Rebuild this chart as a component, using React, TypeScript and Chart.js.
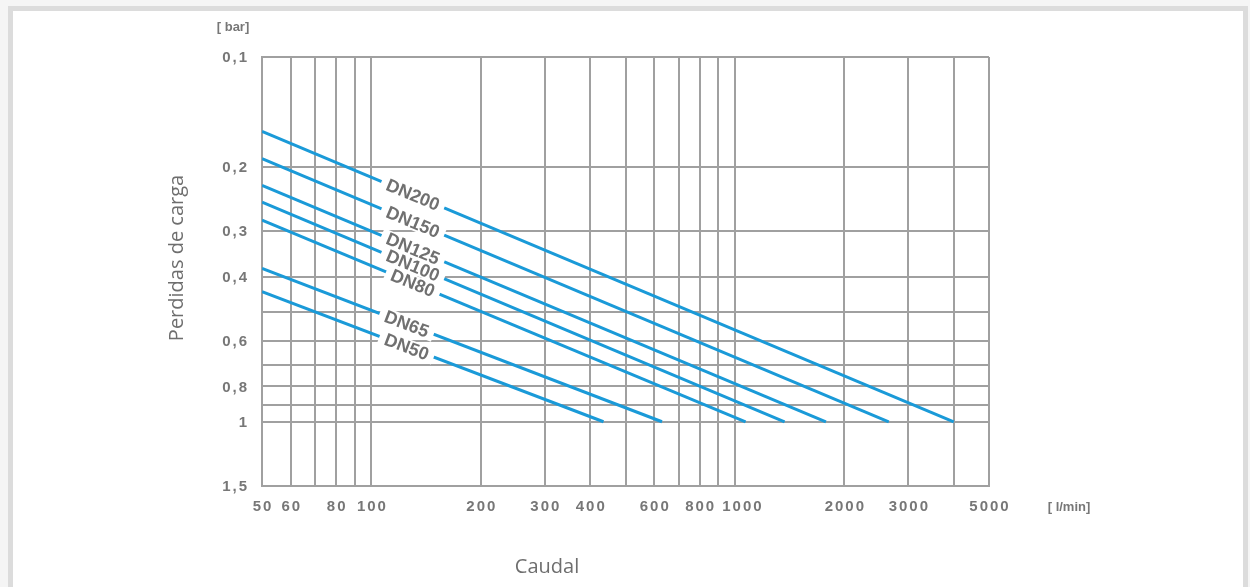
import React, { useEffect, useRef } from "react";
import { Chart, registerables } from "chart.js";

Chart.register(...registerables);

// ---- data ----
const xGridValues = [50, 60, 70, 80, 90, 100, 200, 300, 400, 500, 600, 700, 800, 900, 1000, 2000, 3000, 4000, 5000];
const xLabelValues = [50, 60, 80, 100, 200, 300, 400, 600, 800, 1000, 2000, 3000, 5000];
const xLabelTexts = ["50", "60", "80", "100", "200", "300", "400", "600", "800", "1000", "2000", "3000", "5000"];

const yGridValues = [0.1, 0.2, 0.3, 0.4, 0.5, 0.6, 0.7, 0.8, 0.9, 1.0, 1.5];
const yLabelValues = [0.1, 0.2, 0.3, 0.4, 0.6, 0.8, 1.0, 1.5];
const yLabelTexts = ["0,1", "0,2", "0,3", "0,4", "0,6", "0,8", "1", "1,5"];

const seriesNames = ["DN200", "DN150", "DN125", "DN100", "DN80", "DN65", "DN50"];
const startFlow = [50, 50, 50, 50, 50, 50, 50];
const startLoss = [0.16, 0.19, 0.225, 0.25, 0.28, 0.38, 0.44];
const endFlow = [4000, 2650, 1780, 1370, 1070, 630, 435];
const endLoss = [1, 1, 1, 1, 1, 1, 1];
const labelFlow = [130, 130, 130, 130, 130, 125, 125];

const GRID = "#a0a0a0";
const LINE = "#1a9ad8";
const TEXT = "#777777";

const extrasPlugin = {
  id: "extras",
  afterDraw(chart: any) {
    const ctx = chart.ctx as CanvasRenderingContext2D;
    const xs = chart.scales.x;
    const ys = chart.scales.y;
    const area = chart.chartArea;

    // DN labels with white boxes
    const items: any[] = [];
    chart.data.datasets.forEach((ds: any, i: number) => {
      const p0 = ds.data[0];
      const p1 = ds.data[1];
      const x0 = xs.getPixelForValue(p0.x), y0 = ys.getPixelForValue(p0.y);
      const x1 = xs.getPixelForValue(p1.x), y1 = ys.getPixelForValue(p1.y);
      const lx = xs.getPixelForValue(labelFlow[i]);
      const t = (lx - x0) / (x1 - x0);
      const ly = y0 + t * (y1 - y0);
      const ang = Math.atan2(y1 - y0, x1 - x0);
      items.push({ lx, ly, ang, text: seriesNames[i] });
    });
    ctx.save();
    ctx.font = "bold 18px 'Liberation Sans', Arial, sans-serif";
    items.forEach((it) => {
      const w = ctx.measureText(it.text).width + 12;
      ctx.save();
      ctx.translate(it.lx, it.ly);
      ctx.rotate(it.ang);
      ctx.fillStyle = "#ffffff";
      ctx.fillRect(-w / 2, -8, w, 16);
      ctx.restore();
    });
    items.forEach((it) => {
      ctx.save();
      ctx.translate(it.lx, it.ly);
      ctx.rotate(it.ang);
      ctx.fillStyle = "#707070";
      ctx.textAlign = "center";
      ctx.textBaseline = "middle";
      ctx.fillText(it.text, 0, 1);
      ctx.restore();
    });
    ctx.restore();

    // tick labels
    ctx.save();
    ctx.fillStyle = TEXT;
    ctx.font = "bold 15px 'Liberation Sans', Arial, sans-serif";
    (ctx as any).letterSpacing = "2px";
    ctx.textBaseline = "middle";
    ctx.textAlign = "center";
    let prevRight = -Infinity;
    xLabelValues.forEach((v, i) => {
      const w = ctx.measureText(xLabelTexts[i]).width;
      let cx = xs.getPixelForValue(v) + 1;
      if (cx - w / 2 < prevRight + 6) cx = prevRight + 6 + w / 2;
      ctx.fillText(xLabelTexts[i], cx, area.bottom + 21);
      prevRight = cx + w / 2;
    });
    ctx.textAlign = "right";
    yLabelValues.forEach((v, i) => {
      ctx.fillText(yLabelTexts[i], area.left - 13, ys.getPixelForValue(v) + 1);
    });
    ctx.font = "bold 13px 'Liberation Sans', Arial, sans-serif";
    (ctx as any).letterSpacing = "0px";
    ctx.textAlign = "center";
    ctx.fillText("[ bar]", area.left - 29, area.top - 30);
    ctx.fillText("[ l/min]", area.right + 80, area.bottom + 21);
    ctx.restore();

    // axis titles
    ctx.save();
    ctx.fillStyle = "#6e6e6e";
    ctx.font = "20px 'Open Sans', sans-serif";
    ctx.textAlign = "center";
    ctx.textBaseline = "middle";
    ctx.fillText("Caudal", 547, 567);
    ctx.translate(177, 258);
    ctx.rotate(-Math.PI / 2);
    ctx.fillText("Perdidas de carga", 0, 0);
    ctx.restore();
  },
};

export default function App() {
  const ref = useRef<HTMLCanvasElement>(null);
  useEffect(() => {
    if (!ref.current) return;
    const datasets = seriesNames.map((name, i) => ({
      label: name,
      data: [
        { x: startFlow[i], y: startLoss[i] },
        { x: endFlow[i], y: endLoss[i] },
      ],
      borderColor: LINE,
      borderWidth: 3,
      pointRadius: 0,
      tension: 0,
      fill: false,
    }));
    const chart = new Chart(ref.current, {
      type: "line",
      data: { datasets },
      options: {
        responsive: false,
        animation: false,
        layout: { padding: { left: 0, top: 57, right: 261, bottom: 0 } },
        plugins: { legend: { display: false }, tooltip: { enabled: false } },
        scales: {
          x: {
            type: "logarithmic",
            min: 50,
            max: 5000,
            grid: { color: GRID, lineWidth: 2, drawTicks: false },
            border: { display: true, color: GRID, width: 2 },
            ticks: { display: false },
            afterBuildTicks: (s: any) => {
              s.ticks = xGridValues.map((v) => ({ value: v }));
            },
            afterFit: (s: any) => {
              s.height = 101;
            },
          },
          y: {
            type: "logarithmic",
            min: 0.1,
            max: 1.5,
            reverse: true,
            grid: { color: GRID, lineWidth: 2, drawTicks: false },
            border: { display: true, color: GRID, width: 2 },
            ticks: { display: false },
            afterBuildTicks: (s: any) => {
              s.ticks = yGridValues.map((v) => ({ value: v }));
            },
            afterFit: (s: any) => {
              s.width = 262;
            },
          },
        },
      } as any,
      plugins: [extrasPlugin],
    });
    return () => chart.destroy();
  }, []);

  return (
    <div style={{ position: "fixed", left: 0, top: 0, width: 1250, height: 587, background: "#f5f5f5", overflow: "hidden" }}>
      <div
        style={{
          position: "absolute",
          left: 8,
          top: 6,
          width: 1230,
          height: 620,
          background: "#ffffff",
          border: "5px solid #dcdcdc",
        }}
      />
      <canvas ref={ref} width={1250} height={587} style={{ position: "absolute", left: 0, top: 0, width: 1250, height: 587 }} />
    </div>
  );
}
